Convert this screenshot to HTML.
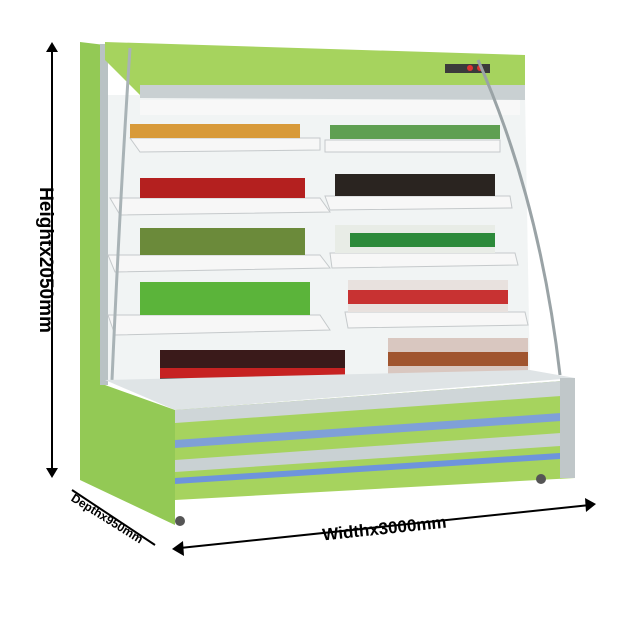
<!DOCTYPE html>
<html><head><style>body{margin:0;background:#fff}svg{display:block}</style></head><body>
<svg width="640" height="640" viewBox="0 0 640 640" xmlns="http://www.w3.org/2000/svg" font-family="Liberation Sans, sans-serif">
<rect width="640" height="640" fill="#fff"/>
<polygon points="105,95 525,95 530,380 165,400 105,380" fill="#f1f4f4"/>
<rect x="140" y="100" width="380" height="15" fill="#f8f8f8"/>
<polygon points="80,42 105,45 105,385 175,410 175,525 80,480" fill="#93c955"/>
<polygon points="100,44 108,44 108,385 100,385" fill="#b9c2c4"/>
<polygon points="105,42 525,55 525,95 140,95 105,60" fill="#a6d35e"/>
<polygon points="140,85 525,85 525,100 140,98" fill="#c9d0d2"/>
<rect x="445" y="64" width="45" height="9" fill="#3b3b3b"/>
<circle cx="470" cy="68" r="3" fill="#d33"/><circle cx="480" cy="68" r="3" fill="#d33"/>
<g fill="#f7f7f7" stroke="#c5c9cb">
<polygon points="130,138 320,138 320,150 140,152"/>
<polygon points="110,198 320,198 330,212 120,215"/>
<polygon points="108,255 320,255 330,268 115,272"/>
<polygon points="108,315 320,315 330,330 115,335"/>
<polygon points="325,140 500,140 500,152 325,152"/>
<polygon points="325,196 510,196 512,208 330,210"/>
<polygon points="330,253 515,253 518,265 332,268"/>
<polygon points="345,312 525,312 528,325 348,328"/>
</g>
<g>
<rect x="130" y="124" width="170" height="14" fill="#d89a3a"/>
<rect x="330" y="125" width="170" height="14" fill="#5f9f52"/>
<rect x="140" y="178" width="165" height="20" fill="#b4201f"/>
<rect x="335" y="174" width="160" height="22" fill="#2a2420"/>
<rect x="140" y="228" width="165" height="27" fill="#6b8a3a"/>
<rect x="335" y="225" width="160" height="28" fill="#e8ece6"/>
<rect x="350" y="233" width="145" height="14" fill="#2c8a3a"/>
<rect x="140" y="282" width="170" height="33" fill="#5bb43a"/>
<rect x="348" y="280" width="160" height="32" fill="#e8e1de"/>
<rect x="348" y="290" width="160" height="14" fill="#c83232"/>
<rect x="160" y="350" width="185" height="40" fill="#3a1a1a"/>
<rect x="160" y="368" width="185" height="10" fill="#c62222"/>
<rect x="388" y="338" width="140" height="42" fill="#d9c7c0"/>
<rect x="388" y="352" width="140" height="14" fill="#a0542e"/>
</g>
<path d="M478,60 Q540,200 560,375" stroke="#9aa3a6" stroke-width="3" fill="none"/>
<path d="M130,48 Q120,200 112,380" stroke="#a9b3b6" stroke-width="3" fill="none"/>
<polygon points="105,380 530,370 575,378 175,410" fill="#dfe4e6"/>
<polygon points="175,410 575,380 575,478 175,500" fill="#a6d35e"/>
<polygon points="175,410 575,380 575,395 175,423" fill="#cfd6d8"/>
<polygon points="175,440 575,412 575,420 175,448" fill="#7fa0d8"/>
<polygon points="175,460 575,432 575,445 175,472" fill="#c9d1d3"/>
<polygon points="175,478 575,452 575,458 175,484" fill="#6e94dc"/>
<polygon points="560,378 575,378 575,478 560,478" fill="#c0c7c9"/>
<circle cx="180" cy="521" r="5" fill="#555"/><circle cx="541" cy="479" r="5" fill="#555"/>
<g stroke="#000" stroke-width="2" fill="#000">
<line x1="52" y1="45" x2="52" y2="475"/>
<polygon points="46,52 52,42 58,52" stroke="none"/>
<polygon points="46,468 52,478 58,468" stroke="none"/>
<line x1="72" y1="490" x2="155" y2="545"/>
<line x1="180" y1="548" x2="590" y2="505"/>
<polygon points="183,541 172,549 184,556" stroke="none"/>
<polygon points="585,498 596,504 586,512" stroke="none"/>
</g>
<text transform="translate(40,260) rotate(90)" font-size="19" font-weight="bold" text-anchor="middle" fill="#000">Heightx2050mm</text>
<text transform="translate(105,522) rotate(32)" font-size="12" font-weight="bold" text-anchor="middle" fill="#000">Depthx950mm</text>
<text transform="translate(385,534) rotate(-6)" font-size="17" font-weight="bold" text-anchor="middle" fill="#000">Widthx3000mm</text>
</svg>
</body></html>
